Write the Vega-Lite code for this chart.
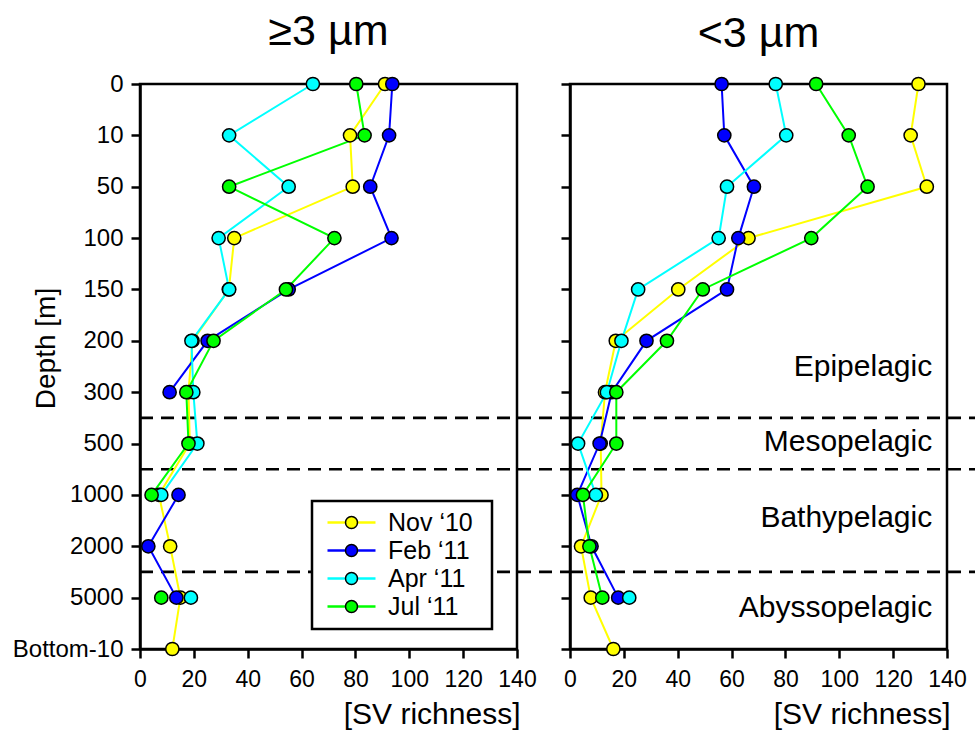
{
  "$schema": "https://vega.github.io/schema/vega-lite/v6.json",
  "padding": {"left": 11, "top": 9, "right": 5, "bottom": 5},
  "background": "white",
  "config": {
    "font": "Liberation Sans",
    "view": {"stroke": "black", "strokeWidth": 2.5},
    "axis": {"domainColor": "black", "domainWidth": 2.5, "tickColor": "black", "tickWidth": 2.5, "tickSize": 9, "grid": false, "labelColor": "black", "labelFont": "Liberation Sans", "titleFont": "Liberation Sans", "titleFontWeight": "normal", "titleColor": "black", "labelOverlap": false, "labelFlush": false},
    "title": {"fontSize": 43, "fontWeight": "normal", "font": "Liberation Sans", "color": "black"},
    "legend": {"labelFont": "Liberation Sans", "strokeWidth": 2.5}
  },
  "data": {"values": [
    {"fraction": "≥3 µm", "month": "Nov ‘10", "depth": "0", "level": 0, "richness": 91},
    {"fraction": "≥3 µm", "month": "Nov ‘10", "depth": "10", "level": 1, "richness": 78},
    {"fraction": "≥3 µm", "month": "Nov ‘10", "depth": "50", "level": 2, "richness": 79},
    {"fraction": "≥3 µm", "month": "Nov ‘10", "depth": "100", "level": 3, "richness": 35},
    {"fraction": "≥3 µm", "month": "Nov ‘10", "depth": "150", "level": 4, "richness": 33},
    {"fraction": "≥3 µm", "month": "Nov ‘10", "depth": "200", "level": 5, "richness": 19.5},
    {"fraction": "≥3 µm", "month": "Nov ‘10", "depth": "300", "level": 6, "richness": 18},
    {"fraction": "≥3 µm", "month": "Nov ‘10", "depth": "500", "level": 7, "richness": 18.5},
    {"fraction": "≥3 µm", "month": "Nov ‘10", "depth": "1000", "level": 8, "richness": 7},
    {"fraction": "≥3 µm", "month": "Nov ‘10", "depth": "2000", "level": 9, "richness": 11.2},
    {"fraction": "≥3 µm", "month": "Nov ‘10", "depth": "5000", "level": 10, "richness": 15},
    {"fraction": "≥3 µm", "month": "Nov ‘10", "depth": "Bottom-10", "level": 11, "richness": 12},
    {"fraction": "≥3 µm", "month": "Feb ‘11", "depth": "0", "level": 0, "richness": 93.7},
    {"fraction": "≥3 µm", "month": "Feb ‘11", "depth": "10", "level": 1, "richness": 92.5},
    {"fraction": "≥3 µm", "month": "Feb ‘11", "depth": "50", "level": 2, "richness": 85.5},
    {"fraction": "≥3 µm", "month": "Feb ‘11", "depth": "100", "level": 3, "richness": 93.4},
    {"fraction": "≥3 µm", "month": "Feb ‘11", "depth": "150", "level": 4, "richness": 55.2},
    {"fraction": "≥3 µm", "month": "Feb ‘11", "depth": "200", "level": 5, "richness": 25.1},
    {"fraction": "≥3 µm", "month": "Feb ‘11", "depth": "300", "level": 6, "richness": 11},
    {"fraction": "≥3 µm", "month": "Feb ‘11", "depth": "500", "level": 7, "richness": null},
    {"fraction": "≥3 µm", "month": "Feb ‘11", "depth": "1000", "level": 8, "richness": 14.3},
    {"fraction": "≥3 µm", "month": "Feb ‘11", "depth": "2000", "level": 9, "richness": 3.1},
    {"fraction": "≥3 µm", "month": "Feb ‘11", "depth": "5000", "level": 10, "richness": 13.5},
    {"fraction": "≥3 µm", "month": "Apr ‘11", "depth": "0", "level": 0, "richness": 64.2},
    {"fraction": "≥3 µm", "month": "Apr ‘11", "depth": "10", "level": 1, "richness": 33.1},
    {"fraction": "≥3 µm", "month": "Apr ‘11", "depth": "50", "level": 2, "richness": 55.2},
    {"fraction": "≥3 µm", "month": "Apr ‘11", "depth": "100", "level": 3, "richness": 29.2},
    {"fraction": "≥3 µm", "month": "Apr ‘11", "depth": "150", "level": 4, "richness": 33.1},
    {"fraction": "≥3 µm", "month": "Apr ‘11", "depth": "200", "level": 5, "richness": 19.1},
    {"fraction": "≥3 µm", "month": "Apr ‘11", "depth": "300", "level": 6, "richness": 19.8},
    {"fraction": "≥3 µm", "month": "Apr ‘11", "depth": "500", "level": 7, "richness": 21.3},
    {"fraction": "≥3 µm", "month": "Apr ‘11", "depth": "1000", "level": 8, "richness": 7.9},
    {"fraction": "≥3 µm", "month": "Apr ‘11", "depth": "2000", "level": 9, "richness": null},
    {"fraction": "≥3 µm", "month": "Apr ‘11", "depth": "5000", "level": 10, "richness": 18.9},
    {"fraction": "≥3 µm", "month": "Jul ‘11", "depth": "0", "level": 0, "richness": 80.3},
    {"fraction": "≥3 µm", "month": "Jul ‘11", "depth": "10", "level": 1, "richness": 83.4},
    {"fraction": "≥3 µm", "month": "Jul ‘11", "depth": "50", "level": 2, "richness": 33.1},
    {"fraction": "≥3 µm", "month": "Jul ‘11", "depth": "100", "level": 3, "richness": 72.2},
    {"fraction": "≥3 µm", "month": "Jul ‘11", "depth": "150", "level": 4, "richness": 54.2},
    {"fraction": "≥3 µm", "month": "Jul ‘11", "depth": "200", "level": 5, "richness": 27.3},
    {"fraction": "≥3 µm", "month": "Jul ‘11", "depth": "300", "level": 6, "richness": 17.2},
    {"fraction": "≥3 µm", "month": "Jul ‘11", "depth": "500", "level": 7, "richness": 18},
    {"fraction": "≥3 µm", "month": "Jul ‘11", "depth": "1000", "level": 8, "richness": 4.3},
    {"fraction": "≥3 µm", "month": "Jul ‘11", "depth": "2000", "level": 9, "richness": null},
    {"fraction": "≥3 µm", "month": "Jul ‘11", "depth": "5000", "level": 10, "richness": 7.9},
    {"fraction": "<3 µm", "month": "Nov ‘10", "depth": "0", "level": 0, "richness": 129.4},
    {"fraction": "<3 µm", "month": "Nov ‘10", "depth": "10", "level": 1, "richness": 126.5},
    {"fraction": "<3 µm", "month": "Nov ‘10", "depth": "50", "level": 2, "richness": 132.5},
    {"fraction": "<3 µm", "month": "Nov ‘10", "depth": "100", "level": 3, "richness": 66.3},
    {"fraction": "<3 µm", "month": "Nov ‘10", "depth": "150", "level": 4, "richness": 40.2},
    {"fraction": "<3 µm", "month": "Nov ‘10", "depth": "200", "level": 5, "richness": 17},
    {"fraction": "<3 µm", "month": "Nov ‘10", "depth": "300", "level": 6, "richness": 13},
    {"fraction": "<3 µm", "month": "Nov ‘10", "depth": "500", "level": 7, "richness": 11.4},
    {"fraction": "<3 µm", "month": "Nov ‘10", "depth": "1000", "level": 8, "richness": 11.7},
    {"fraction": "<3 µm", "month": "Nov ‘10", "depth": "2000", "level": 9, "richness": 4.1},
    {"fraction": "<3 µm", "month": "Nov ‘10", "depth": "5000", "level": 10, "richness": 7.7},
    {"fraction": "<3 µm", "month": "Nov ‘10", "depth": "Bottom-10", "level": 11, "richness": 16.1},
    {"fraction": "<3 µm", "month": "Feb ‘11", "depth": "0", "level": 0, "richness": 56.3},
    {"fraction": "<3 µm", "month": "Feb ‘11", "depth": "10", "level": 1, "richness": 57.3},
    {"fraction": "<3 µm", "month": "Feb ‘11", "depth": "50", "level": 2, "richness": 68.3},
    {"fraction": "<3 µm", "month": "Feb ‘11", "depth": "100", "level": 3, "richness": 62.5},
    {"fraction": "<3 µm", "month": "Feb ‘11", "depth": "150", "level": 4, "richness": 58.3},
    {"fraction": "<3 µm", "month": "Feb ‘11", "depth": "200", "level": 5, "richness": 28.4},
    {"fraction": "<3 µm", "month": "Feb ‘11", "depth": "300", "level": 6, "richness": 15.5},
    {"fraction": "<3 µm", "month": "Feb ‘11", "depth": "500", "level": 7, "richness": 11},
    {"fraction": "<3 µm", "month": "Feb ‘11", "depth": "1000", "level": 8, "richness": 2.7},
    {"fraction": "<3 µm", "month": "Feb ‘11", "depth": "2000", "level": 9, "richness": 8},
    {"fraction": "<3 µm", "month": "Feb ‘11", "depth": "5000", "level": 10, "richness": 17.9},
    {"fraction": "<3 µm", "month": "Apr ‘11", "depth": "0", "level": 0, "richness": 76.4},
    {"fraction": "<3 µm", "month": "Apr ‘11", "depth": "10", "level": 1, "richness": 80.3},
    {"fraction": "<3 µm", "month": "Apr ‘11", "depth": "50", "level": 2, "richness": 58.3},
    {"fraction": "<3 µm", "month": "Apr ‘11", "depth": "100", "level": 3, "richness": 55.2},
    {"fraction": "<3 µm", "month": "Apr ‘11", "depth": "150", "level": 4, "richness": 25.3},
    {"fraction": "<3 µm", "month": "Apr ‘11", "depth": "200", "level": 5, "richness": 19.1},
    {"fraction": "<3 µm", "month": "Apr ‘11", "depth": "300", "level": 6, "richness": 13.7},
    {"fraction": "<3 µm", "month": "Apr ‘11", "depth": "500", "level": 7, "richness": 3},
    {"fraction": "<3 µm", "month": "Apr ‘11", "depth": "1000", "level": 8, "richness": 9.6},
    {"fraction": "<3 µm", "month": "Apr ‘11", "depth": "2000", "level": 9, "richness": null},
    {"fraction": "<3 µm", "month": "Apr ‘11", "depth": "5000", "level": 10, "richness": 22},
    {"fraction": "<3 µm", "month": "Jul ‘11", "depth": "0", "level": 0, "richness": 91.4},
    {"fraction": "<3 µm", "month": "Jul ‘11", "depth": "10", "level": 1, "richness": 103.5},
    {"fraction": "<3 µm", "month": "Jul ‘11", "depth": "50", "level": 2, "richness": 110.5},
    {"fraction": "<3 µm", "month": "Jul ‘11", "depth": "100", "level": 3, "richness": 89.6},
    {"fraction": "<3 µm", "month": "Jul ‘11", "depth": "150", "level": 4, "richness": 49.3},
    {"fraction": "<3 µm", "month": "Jul ‘11", "depth": "200", "level": 5, "richness": 36},
    {"fraction": "<3 µm", "month": "Jul ‘11", "depth": "300", "level": 6, "richness": 17.2},
    {"fraction": "<3 µm", "month": "Jul ‘11", "depth": "500", "level": 7, "richness": 17.2},
    {"fraction": "<3 µm", "month": "Jul ‘11", "depth": "1000", "level": 8, "richness": 4.8},
    {"fraction": "<3 µm", "month": "Jul ‘11", "depth": "2000", "level": 9, "richness": 7.2},
    {"fraction": "<3 µm", "month": "Jul ‘11", "depth": "5000", "level": 10, "richness": 12}
  ]},
  "spacing": 53,
  "bounds": "flush",
  "hconcat": [
    {
      "width": 377,
      "height": 565,
      "title": {"text": "≥3 µm", "frame": "group", "anchor": "middle", "baseline": "alphabetic", "offset": -16},
      "layer": [
        {
          "data": {"values": [{"boundary": "epi-meso", "level": 6.5}, {"boundary": "meso-bathy", "level": 7.5}, {"boundary": "bathy-abysso", "level": 9.5}]},
          "mark": {"type": "rule", "strokeDash": [13, 8], "strokeWidth": 2.7, "color": "black", "clip": false},
          "encoding": {
            "y": {"field": "level", "type": "quantitative"},
            "x": {"datum": 0},
            "x2": {"datum": 160}
          }
        },
        {
          "transform": [{"filter": "datum.fraction === '≥3 µm'"}],
          "mark": {"type": "line", "strokeWidth": 2},
          "encoding": {
            "x": {"field": "richness", "type": "quantitative", "scale": {"domain": [0, 140], "nice": false, "zero": false},
                  "axis": {"values": [0, 20, 40, 60, 80, 100, 120, 140], "labelFontSize": 23, "labelPadding": 10, "title": "[SV richness]", "titleFontSize": 30, "titleAlign": "right", "titleAnchor": "end", "titleX": 380, "titleY": 74, "titleBaseline": "alphabetic"}},
            "y": {"field": "level", "type": "quantitative", "scale": {"domain": [0, 11], "reverse": true, "nice": false, "zero": false},
                  "axis": {"values": [0, 1, 2, 3, 4, 5, 6, 7, 8, 9, 10, 11], "labelExpr": "['0','10','50','100','150','200','300','500','1000','2000','5000','Bottom-10'][datum.value]", "labelFontSize": 24, "labelPadding": 8, "title": "Depth [m]", "titleFontSize": 28, "titleAngle": 270, "titleX": -94, "titleY": 264, "titleBaseline": "middle", "titleAlign": "center"}},
            "order": {"field": "level", "type": "quantitative"},
            "stroke": {"field": "month", "type": "nominal",
                       "scale": {"domain": ["Nov ‘10", "Feb ‘11", "Apr ‘11", "Jul ‘11"], "range": ["#FFFF00", "#0000FF", "#00FFFF", "#00FF00"]},
                       "legend": {"orient": "none", "legendX": 172, "legendY": 417, "title": "\u00a0", "titleOrient": "right", "titlePadding": 10, "titleFontSize": 6, "symbolType": "M-4,0H4", "symbolSize": 144, "symbolStrokeWidth": 2.5, "symbolOffset": 18, "labelOffset": 24, "labelFontSize": 25, "labelOpacity": 0, "padding": 9, "rowPadding": 2, "strokeColor": "black", "fillColor": "white", "zindex": 1}}
          }
        },
        {
          "transform": [{"filter": "datum.fraction === '≥3 µm'"}],
          "mark": {"type": "point", "filled": true, "shape": "circle", "size": 175, "stroke": "black", "strokeWidth": 1.5, "opacity": 1},
          "encoding": {
            "x": {"field": "richness", "type": "quantitative"},
            "y": {"field": "level", "type": "quantitative"},
            "fill": {"field": "month", "type": "nominal", "sort": null,
                     "scale": {"range": ["#FFFF00", "#0000FF", "#00FFFF", "#00FF00"]},
                     "legend": {"orient": "none", "legendX": 172, "legendY": 417, "title": null, "symbolType": "circle", "symbolSize": 144, "symbolStrokeColor": "black", "symbolStrokeWidth": 1.5, "symbolOffset": 18, "labelOffset": 24, "labelFontSize": 25, "labelColor": "black", "padding": 9, "rowPadding": 2, "zindex": 2}}
          }
        }
      ]
    },
    {
      "width": 377,
      "height": 565,
      "title": {"text": "<3 µm", "frame": "group", "anchor": "middle", "baseline": "alphabetic", "offset": -16},
      "layer": [
        {
          "data": {"values": [{"boundary": "epi-meso", "level": 6.5}, {"boundary": "meso-bathy", "level": 7.5}, {"boundary": "bathy-abysso", "level": 9.5}]},
          "mark": {"type": "rule", "strokeDash": [13, 8], "strokeWidth": 2.7, "color": "black", "clip": false},
          "encoding": {
            "y": {"field": "level", "type": "quantitative"},
            "x": {"datum": 0},
            "x2": {"datum": 151}
          }
        },
        {
          "data": {"values": [{"zone": "Epipelagic", "level": 5.5}, {"zone": "Mesopelagic", "level": 6.97}, {"zone": "Bathypelagic", "level": 8.45}, {"zone": "Abyssopelagic", "level": 10.2}]},
          "mark": {"type": "text", "align": "right", "baseline": "middle", "fontSize": 30, "color": "black", "font": "Liberation Sans"},
          "encoding": {
            "y": {"field": "level", "type": "quantitative"},
            "x": {"datum": 134.5},
            "text": {"field": "zone", "type": "nominal"}
          }
        },
        {
          "transform": [{"filter": "datum.fraction === '<3 µm'"}],
          "mark": {"type": "line", "strokeWidth": 2},
          "encoding": {
            "x": {"field": "richness", "type": "quantitative", "scale": {"domain": [0, 140], "nice": false, "zero": false},
                  "axis": {"values": [0, 20, 40, 60, 80, 100, 120, 140], "labelFontSize": 23, "labelPadding": 10, "title": "[SV richness]", "titleFontSize": 30, "titleAlign": "right", "titleAnchor": "end", "titleX": 380, "titleY": 74, "titleBaseline": "alphabetic"}},
            "y": {"field": "level", "type": "quantitative", "scale": {"domain": [0, 11], "reverse": true, "nice": false, "zero": false},
                  "axis": {"values": [0, 1, 2, 3, 4, 5, 6, 7, 8, 9, 10, 11], "labels": false, "title": null}},
            "order": {"field": "level", "type": "quantitative"},
            "stroke": {"field": "month", "type": "nominal",
                       "scale": {"domain": ["Nov ‘10", "Feb ‘11", "Apr ‘11", "Jul ‘11"], "range": ["#FFFF00", "#0000FF", "#00FFFF", "#00FF00"]},
                       "legend": null}
          }
        },
        {
          "transform": [{"filter": "datum.fraction === '<3 µm'"}],
          "mark": {"type": "point", "filled": true, "shape": "circle", "size": 175, "stroke": "black", "strokeWidth": 1.5, "opacity": 1},
          "encoding": {
            "x": {"field": "richness", "type": "quantitative"},
            "y": {"field": "level", "type": "quantitative"},
            "fill": {"field": "month", "type": "nominal", "sort": null,
                     "scale": {"range": ["#FFFF00", "#0000FF", "#00FFFF", "#00FF00"]},
                     "legend": null}
          }
        }
      ]
    }
  ]
}
